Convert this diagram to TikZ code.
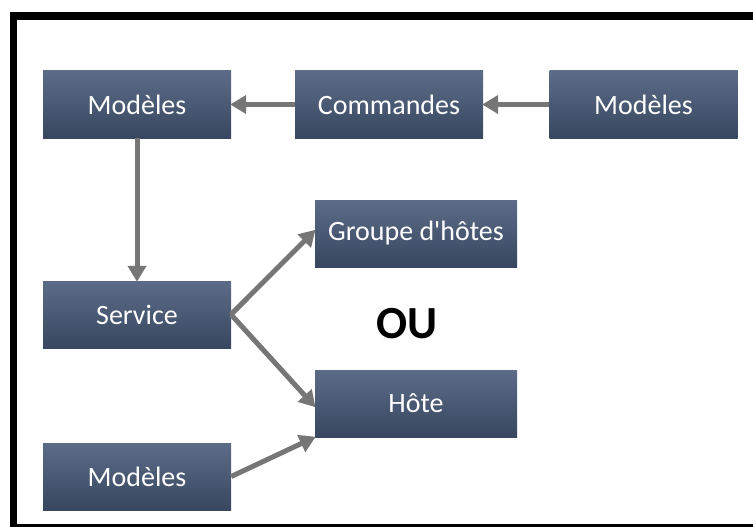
\documentclass[tikz,border=0pt]{standalone}
\usepackage{fontspec}
\setmainfont{Carlito}
\usetikzlibrary{arrows.meta,positioning}
\definecolor{boxtop}{HTML}{5C6C88}
\definecolor{boxbot}{HTML}{38475F}
\definecolor{linkgray}{HTML}{767676}
\tikzset{
  blockbox/.style={rectangle, minimum width=188pt, minimum height=67pt,
    top color=boxtop, bottom color=boxbot, draw=none, inner sep=0pt,
    text=white, font=\fontsize{28}{31}\selectfont},
  widebox/.style={blockbox, minimum width=202pt},
  link/.style={draw=linkgray, line width=5pt,
    -{Triangle[length=16pt,width=18pt]}, shorten >=-1pt}
}
\begin{document}
\begin{tikzpicture}[x=1pt,y=-1pt]
  % canvas and frame
  \fill[white] (0,0) rectangle (753,527);
  \useasboundingbox (0,0) rectangle (753,527);
  \fill[black] (10,12) rectangle (753,20);
  \fill[black] (10,12) rectangle (17,527);
  \fill[black] (10,524) rectangle (753,527);

  % blocks
  \node[blockbox] (modA) at (137,104.5) {Modèles};
  \node[blockbox] (cmd)  at (389,104.5) {Commandes};
  \node[blockbox] (modB) at (643.5,104.5) {Modèles};
  \node[widebox]  (grp)  at (416,233.5) {Groupe d\textquotesingle hôtes};
  \node[blockbox] (svc)  at (137,314.5) {Service};
  \node[widebox]  (host) at (416,403.5) {Hôte};
  \node[blockbox] (modC) at (137,476.5) {Modèles};

  \node[font=\bfseries\fontsize{46}{50}\selectfont] (ou) at (407,324) {OU};

  % connectors
  \draw[link] (modB.west) -- (cmd.east);
  \draw[link] (cmd.west) -- (modA.east);
  \draw[link] (modA.south) -- (svc.north);
  \coordinate (svcout) at (231,314.5);
  \draw[link] (svcout) -- ([yshift=3pt]grp.west);
  \draw[link] (svcout) -- ([yshift=-3pt]host.west);
  \draw[link] (modC.east) -- (host.south west);
\end{tikzpicture}
\end{document}
